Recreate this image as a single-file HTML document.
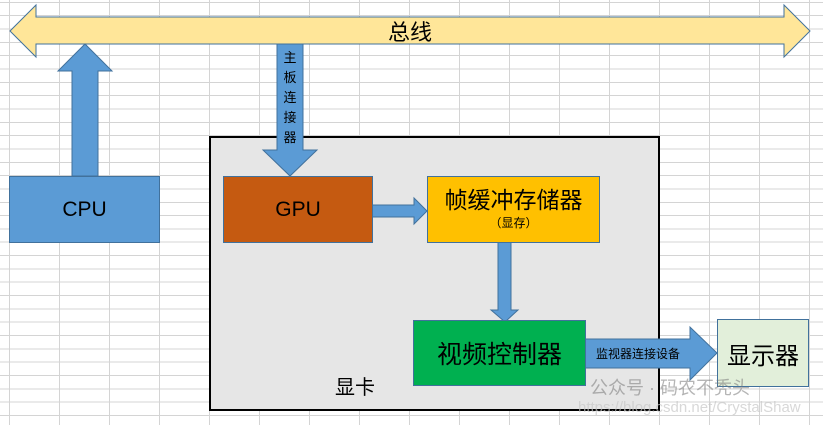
<!DOCTYPE html>
<html><head><meta charset="utf-8"><style>
body{margin:0;width:823px;height:425px;overflow:hidden;position:relative;font-family:"Liberation Sans","Noto Sans CJK SC",sans-serif;
background-color:#fff;
background-image:repeating-linear-gradient(to right,transparent 0,transparent 9px,#d4d4d4 9px,#d4d4d4 10px,transparent 10px,transparent 50px),
repeating-linear-gradient(to bottom,transparent 0,transparent 1.8px,#d4d4d4 1.8px,#d4d4d4 2.8px,transparent 2.8px,transparent 13.33px);}
.a{position:absolute;box-sizing:border-box;display:flex;align-items:center;justify-content:center;color:#000}
svg{position:absolute;left:0;top:0}
</style></head><body>
<div class="a" style="left:209px;top:136px;width:451px;height:275px;background:#e6e6e6;border:2px solid #000"></div>
<svg width="823" height="425">
<polygon points="10,31 36,5 36,17 784,17 784,5 810,31 784,57 784,44 36,44 36,57" fill="#ffe699" stroke="#41719c" stroke-width="1"/>
<polygon points="72,176 72,71 58,71 85,44 112,71 98,71 98,176" fill="#5b9bd5" stroke="#41719c" stroke-width="1"/>
<polygon points="277,44 303,44 303,150 317,150 290,176 263,150 277,150" fill="#5b9bd5" stroke="#41719c" stroke-width="1"/>
<polygon points="372,205 414,205 414,198 427,211 414,224 414,217 372,217" fill="#5b9bd5" stroke="#41719c" stroke-width="1"/>
<polygon points="498,242 511,242 511,310 518,310 505,322 491,310 498,310" fill="#5b9bd5" stroke="#41719c" stroke-width="1"/>
<polygon points="585,339 690,339 690,327 717,353 690,380 690,368 585,368" fill="#5b9bd5" stroke="#41719c" stroke-width="1"/>
</svg>
<div class="a" style="left:360px;top:16px;width:100px;height:30px;font-size:22px">总线</div>
<div class="a" style="left:277px;top:48px;width:26px;height:100px;font-size:13px;line-height:20px;flex-direction:column">主<br>板<br>连<br>接<br>器</div>
<div class="a" style="left:9px;top:176px;width:151px;height:67px;background:#5b9bd5;border:1px solid #41719c;font-size:21px">CPU</div>
<div class="a" style="left:223px;top:176px;width:150px;height:67px;background:#c55a11;border:1px solid #41719c;font-size:21px">GPU</div>
<div class="a" style="left:427px;top:176px;width:173px;height:67px;background:#ffc000;border:1px solid #41719c;flex-direction:column;justify-content:flex-start">
<div style="font-size:23px;margin-top:8px;line-height:30px">帧缓冲存储器</div><div style="font-size:12px;line-height:16px">（显存）</div></div>
<div class="a" style="left:413px;top:320px;width:173px;height:66px;background:#00b050;border:1px solid #41719c;font-size:25px">视频控制器</div>
<div class="a" style="left:717px;top:319px;width:92px;height:68px;background:#e2efda;border:1px solid #41719c;font-size:24px">显示器</div>
<div class="a" style="left:588px;top:343px;width:100px;height:20px;font-size:12px">监视器连接设备</div>
<div class="a" style="left:325px;top:372px;width:60px;height:26px;font-size:20px">显卡</div>
<div class="a" style="left:590px;top:375px;width:220px;height:24px;font-size:18px;color:rgba(120,120,120,.55);justify-content:flex-start">公众号 · 码农不秃头</div>
<div class="a" style="left:578px;top:398px;width:240px;height:18px;font-size:15px;color:rgba(200,200,200,.7);justify-content:flex-start">https://blog.csdn.net/CrystalShaw</div>
</body></html>
